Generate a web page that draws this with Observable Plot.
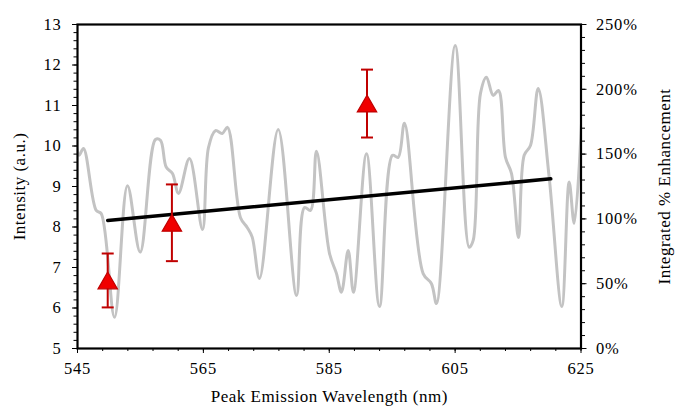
<!DOCTYPE html>
<html><head><meta charset="utf-8">
<script src="https://cdn.jsdelivr.net/npm/d3@7"></script>
<script src="https://cdn.jsdelivr.net/npm/@observablehq/plot@0.6"></script>
<style>
body{margin:0;background:#fff}
#chart svg, #chart svg text { font-family: "Liberation Serif", "Times New Roman", Times, serif !important; }
#chart g[aria-label="x-axis tick label"], #chart g[aria-label="x-axis tick label"] text,
#chart g[aria-label="y-axis tick label"], #chart g[aria-label="y-axis tick label"] text { font-size: 16.5px !important; letter-spacing: 0.8px; }
#chart g[aria-label="x-axis label"], #chart g[aria-label="x-axis label"] text,
#chart g[aria-label="y-axis label"], #chart g[aria-label="y-axis label"] text { font-size: 17px !important; letter-spacing: 0.5px; }
</style>
</head><body><div id="chart"></div>
<script>
// Spectrum (gray line), left axis
const wavelength = [544.6, 545.24, 545.95, 547.97, 548.77, 550.88, 552.94, 554.96, 557.39, 558.19, 559.09, 560.09, 561.05, 562.79, 564.86, 565.81, 566.93, 567.99, 568.83, 570.90, 571.96, 572.76, 573.92, 576.89, 579.80, 581.07, 582.02, 582.97, 585.04, 586.15, 586.94, 588.01, 588.85, 590.92, 592.98, 595.05, 595.95, 596.95, 599.92, 601.24, 602.04, 605.01, 607.23, 607.87, 609.03, 609.98, 611.05, 611.89, 613.00, 613.96, 615.07, 615.97, 616.97, 618.20, 619.94, 621.95, 623.12, 623.92, 625.24];
const intensity = [10.3, 9.77, 9.94, 8.41, 8.33, 5.77, 9.02, 7.38, 10.16, 10.14, 9.48, 9.32, 8.83, 9.69, 7.94, 9.96, 10.38, 10.31, 10.46, 8.23, 7.99, 7.75, 6.73, 10.41, 6.31, 8.48, 8.41, 9.87, 7.35, 6.85, 6.39, 7.42, 6.39, 9.81, 6.04, 9.77, 9.72, 10.56, 6.85, 6.60, 6.11, 12.48, 7.50, 7.67, 11.30, 11.70, 11.25, 11.37, 9.72, 9.32, 7.74, 9.77, 10.01, 11.42, 9.23, 6.04, 9.11, 8.09, 11.07];

// Integrated % enhancement (red triangles), right axis
const sampleWavelength = [549.8, 560, 591];
const enhancement = [52.5, 97, 189];
const enhancementErr = [20.8, 29.6, 26.2];

// Trend line, right axis
const trendWavelength = [549.8, 620.2];
const trendEnhancement = [98.8, 130.9];

// Ticks
const xTicks = [545, 565, 585, 605, 625];
const yTicks = [5, 6, 7, 8, 9, 10, 11, 12, 13];
const pctTicks = [0, 50, 100, 150, 200, 250];

const yMin = 5, yMax = 13, pctMax = 250;
const pctToY = p => yMin + p / pctMax * (yMax - yMin);
const yToPct = v => Math.round((v - yMin) / (yMax - yMin) * pctMax);

const spectrum = wavelength.map((w, i) => ({w, v: intensity[i]}));
const samples = sampleWavelength.map((w, i) => ({
  w, y: pctToY(enhancement[i]),
  y1: pctToY(enhancement[i] - enhancementErr[i]),
  y2: pctToY(enhancement[i] + enhancementErr[i])
}));
const trend = trendWavelength.map((w, i) => ({w, y: pctToY(trendEnhancement[i])}));

const xMinor = d3.range(545, 625.01, 4);
const yMinor = d3.range(5, 13.001, 0.2);
const pctMinor = d3.range(0, 250.01, 10).map(pctToY);

const capSymbol = {draw(ctx) { ctx.moveTo(-6, 0); ctx.lineTo(6, 0); }};
const font = "'Liberation Serif', 'Times New Roman', Times, serif";

const chart = Plot.plot({
  width: 678, height: 409,
  marginLeft: 77, marginRight: 97.5, marginTop: 24, marginBottom: 61,
  x: {domain: [545, 625]},
  y: {domain: [yMin, yMax]},
  style: {fontFamily: font, fontSize: "16.5px", color: "#000", background: "#fff"},
  marks: [
    Plot.line(spectrum, {x: "w", y: "v", stroke: "#c3c3c3", strokeWidth: 3, curve: "catmull-rom", clip: true}),
    Plot.line(trend, {x: "w", y: "y", stroke: "#000", strokeWidth: 3.5}),
    Plot.ruleX(samples, {x: "w", y1: "y1", y2: "y2", stroke: "#c00000", strokeWidth: 2}),
    Plot.dot(samples, {x: "w", y: "y1", symbol: capSymbol, stroke: "#c00000", strokeWidth: 2, fill: "none", r: 6}),
    Plot.dot(samples, {x: "w", y: "y2", symbol: capSymbol, stroke: "#c00000", strokeWidth: 2, fill: "none", r: 6}),
    Plot.dot(samples, {x: "w", y: "y", symbol: "triangle", r: 7.2, dy: 2.8, fill: "#f00000", stroke: "#c00000", strokeWidth: 1.2}),
    Plot.frame({stroke: "#000", strokeWidth: 2.2}),
    Plot.axisX({ticks: xMinor, tickSize: 3, tickFormat: () => "", label: null}),
    Plot.axisX({ticks: xTicks, tickSize: 5, tickPadding: 9, tickFormat: d => String(d),
      label: "Peak Emission Wavelength (nm)", labelAnchor: "center", labelOffset: 53, labelArrow: "none"}),
    Plot.axisY({ticks: yMinor, tickSize: 3.5, tickFormat: () => "", label: null}),
    Plot.axisY({ticks: yTicks, tickSize: 5, tickPadding: 11, tickFormat: d => String(d),
      label: "Intensity (a.u.)", labelAnchor: "center", labelOffset: 65, labelArrow: "none"}),
    Plot.axisY({anchor: "right", ticks: pctMinor, tickSize: 3.5, tickFormat: () => "", label: null}),
    Plot.axisY({anchor: "right", ticks: pctTicks.map(pctToY), tickSize: 5, tickPadding: 10, tickFormat: v => yToPct(v) + "%",
      label: "Integrated % Enhancement", labelAnchor: "center", labelOffset: 89, labelArrow: "none"})
  ]
});
document.getElementById("chart").appendChild(chart);
</script>
</body></html>
